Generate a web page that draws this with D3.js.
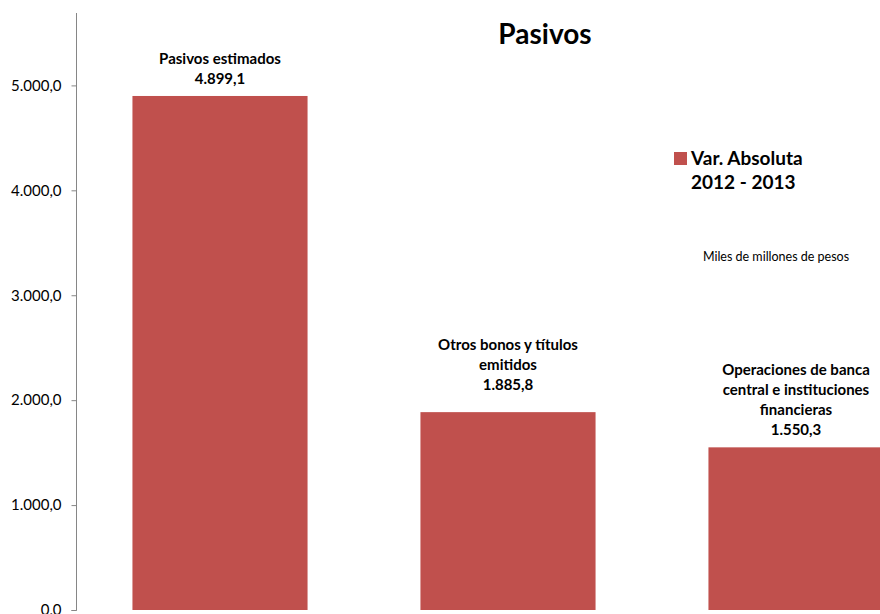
<!DOCTYPE html>
<html>
<head>
<meta charset="utf-8">
<script src="https://cdn.jsdelivr.net/npm/d3@7.9.0/dist/d3.min.js"></script>
<style>
  body { margin: 0; background: #fff; }
  text { font-family: Lato, "Open Sans", sans-serif; fill: #000; }
</style>
</head>
<body>
<svg id="chart" width="880" height="614"></svg>
<script>
// Data
const categories = ["Pasivos estimados", "Otros bonos y títulos emitidos", "Operaciones de banca central e instituciones financieras"];
const labelLines = [
    ["Pasivos estimados"],
    ["Otros bonos y títulos", "emitidos"],
    ["Operaciones de banca", "central e instituciones", "financieras"]
];
const values = [4899.1, 1885.8, 1550.3];
const yTicks = [0, 1000, 2000, 3000, 4000, 5000];
const labelGap = [12, 22, 12];

const svg = d3.select("#chart");

// Number format: 4.899,1
const fmt = d3.formatLocale({ decimal: ",", thousands: ".", grouping: [3], currency: ["$", ""] }).format(",.1f");

// Scales
const x = d3.scaleBand()
    .domain(categories)
    .range([76, 940])
    .paddingInner(0.392)
    .paddingOuter(0.196);

const y = d3.scaleLinear()
    .domain([0, 5690])
    .range([610, 13]);

// Bars
svg.selectAll("rect.bar")
    .data(values)
    .enter()
    .append("rect")
    .attr("class", "bar")
    .attr("x", (d, i) => x(categories[i]))
    .attr("y", d => y(d))
    .attr("width", x.bandwidth())
    .attr("height", d => y(0) - y(d))
    .attr("fill", "#C0504D");

// Y axis
const yAxis = svg.append("g")
    .attr("transform", "translate(76.5,0)")
    .call(d3.axisLeft(y).tickValues(yTicks).tickSize(5).tickPadding(10).tickFormat(fmt));
yAxis.select(".domain").attr("stroke", "#868686").attr("d", `M-5,${y(0) + 0.5}H0V${y.range()[1]}`);
yAxis.selectAll(".tick line").attr("stroke", "#868686");
yAxis.selectAll(".tick text").style("font-size", "15px").attr("fill", "#000");

// Bar labels
const lineH = 20;
values.forEach((v, i) => {
    const lines = labelLines[i].concat([fmt(v)]);
    const cx = x(categories[i]) + x.bandwidth() / 2;
    const base = y(v) - labelGap[i];
    const t = svg.append("text")
        .attr("text-anchor", "middle")
        .style("font-size", "15px")
        .style("font-weight", "bold");
    lines.forEach((l, j) => {
        t.append("tspan")
            .attr("x", cx)
            .attr("y", base - (lines.length - 1 - j) * lineH)
            .text(l);
    });
});

// Title
svg.append("text")
    .attr("x", 545)
    .attr("y", 44)
    .attr("text-anchor", "middle")
    .style("font-size", "28px")
    .style("font-weight", "bold")
    .text("Pasivos");

// Legend
const legend = svg.append("g").attr("transform", "translate(674,152)");
legend.append("rect")
    .attr("width", 13)
    .attr("height", 13)
    .attr("fill", "#C0504D");
legend.append("text")
    .attr("x", 17)
    .attr("y", 13)
    .style("font-size", "19px")
    .style("font-weight", "bold")
    .text("Var. Absoluta");
legend.append("text")
    .attr("x", 17)
    .attr("y", 37)
    .style("font-size", "19px")
    .style("font-weight", "bold")
    .text("2012 - 2013");

// Units note
svg.append("text")
    .attr("x", 776)
    .attr("y", 261)
    .attr("text-anchor", "middle")
    .style("font-size", "12.5px")
    .text("Miles de millones de pesos");
</script>
</body>
</html>
